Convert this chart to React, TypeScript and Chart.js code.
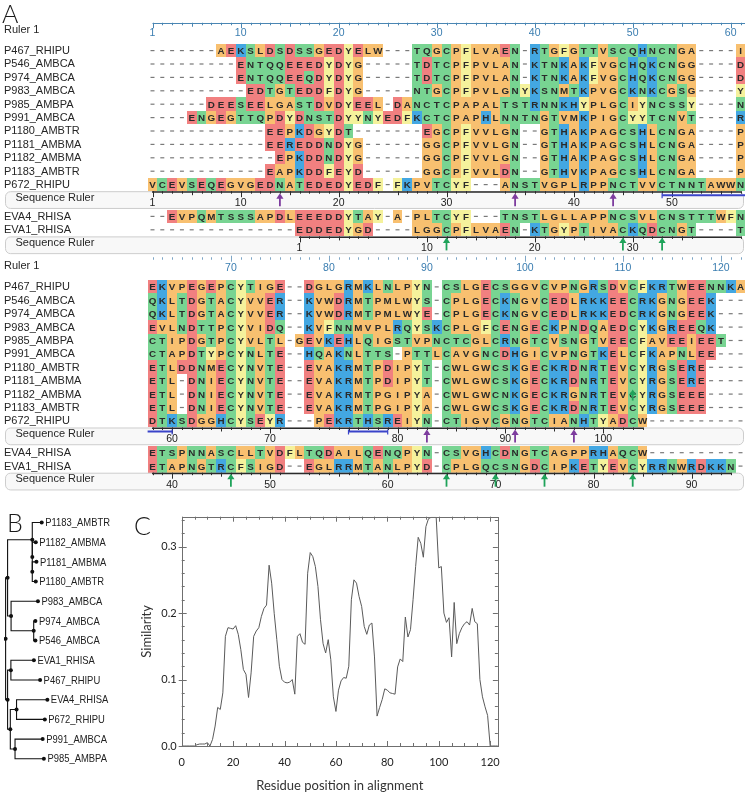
import React, { useEffect, useRef } from 'react';
import { Chart, registerables } from 'chart.js';

Chart.register(...registerables);

/* ============================ DATA ============================ */

// ---- Panel A: multiple alignment, wrapped in two blocks of 61 columns ----
const sequenceNames = [
  'P467_RHIPU', 'P546_AMBCA', 'P974_AMBCA', 'P983_AMBCA', 'P985_AMBPA', 'P991_AMBCA',
  'P1180_AMBTR', 'P1181_AMBMA', 'P1182_AMBMA', 'P1183_AMBTR', 'P672_RHIPU',
];
const sequencesBlock1 = [
  '-------AEKSLDSDSSGEDYELW---TQGCPFLVAEN-RTGFGTTVSCQHNCNGA----I',
  '---------ENTQQEEEDYDYG-----TDTCPFPVLAN-KTNKAKFVGCHQKCNGG----D',
  '---------ENTQQEEQDYDYG-----TDTCPFPVLAN-KTNKAKFVGCHQKCNGG----D',
  '----------EDTGTEDDFDYG-----NTGCPFPVLGNYKSNMTKPVGCKNKCGSG----Y',
  '------DEESEELGASTDVDYEEL-DANCTCPAPALTSTRNNKHYPLGCIYNCSSY----N',
  '----ENGEGTTQPDYDNSTDYYNYEDFKCTCPAPHLNNTNGTVMKPIGCYYTCNVT----R',
  '------------EEPKDGYDT-------EGCPFVVLGN--GTHAKPAGCSHLCNGA----P',
  '------------EEREDDNDYG------GGCPFVVLGN--GTHAKPAGCSHLCNGA----P',
  '-------------EPKDDNDYG------GGCPFVVLGN--GTHAKPAGCSHLCNGA----P',
  '------------EAPKDDFEYD------GGCPFVVLDN--GTHVKPAGCSHLCNGA----P',
  'VCEVSEQEGVGEDNATEDEDYEDF-FKPVTCYF---ANSTVGPLRPPNCTVVCTNNTAWWN',
];
const sequencesBlock2 = [
  'EKVPEGEPCYTIGE--DGLGRMKLNLPYN-CSLGECSGGVCVPNGRSDVCFKRTWEENNKA',
  'QKLTDGTACYVVER--KVWDRMTPMLWYS-CPLGECKNGVCEDLRKKEECRKGNGEEK---',
  'QKLTDGTACYVVER--KVWDRMTPMLWYE-CPLGECKNGVCEDLRKKEDCRKGNGEEK---',
  'EVLNDTTPCYVIDQ--KVFNNMVPLRQYSKCPLGFCENGECKPNDQAEDCYKGREEQK---',
  'CTIPDGTPCYVLTL-GEVKEHLQIGSTVPNCTCGLCRNGTCVSNGTVEECFAVEEIEET--',
  'CTAPDTYPCYNLTE--HQAKNLTTS-PTTLCAVGNCDHGICVPNGTKELCFKAPNLEE---',
  'ETLDDNMECYNVTE--EVAKRMTPDIPYT-CWLGWCSKGECKRDNRTEVCYRGSERE----',
  'ETL-DNIECYNVTE--EVAKRMTPDIPYT-CWLGWCSKGECKRDNRTEVCYRGSERE----',
  'ETL-DNIECYNVTE--EVAKRMTPGIPYA-CWLGWCNKGECKRGNRTEVCYRGSEEE----',
  'ETL-DNIECYNVTE--EVAKRMTPGIPYA-CWLGWCSKGECKRDNRTEVCYRGSEEE----',
  'DTKSDGGHCYSEYR---PEKRTHSREIYN-CTIGVCGNGTCIANHTYADCW----------',
];
const evaNames = ['EVA4_RHISA', 'EVA1_RHISA'];
const evaBlock1 = [
  '--EVPQMTSSSAPDLEEEDDYTAY-A-PLTCYF---TNSTLGLLAPPNCSVLCNSTTTWFN',
  '---------------EDDEDYGD----LGGCPFLVAEN-KTGYPTIVACKQDCNGT----T',
];
const evaBlock2 = [
  'ETSPNNASCLLTVDFLTQDAILQENQPYN-CSVGHCDNGTCAGPPRHAQCW----------',
  'ETAPNGTRCFSIGD--EGLRRMTANLPYD-CPLGQCSNGDCIPKETYEVCYRRNWRDKKN-',
];
const blockFirstColumns = [1, 62];
const ruler1Numbers = [1, 10, 20, 30, 40, 50, 60, 70, 80, 90, 100, 110, 120];
const glycosylationColumns = [14, 38, 48, 90, 99, 105];
const cysteineColumns = [31, 49, 53, 70, 92, 97, 102, 111];
const underlineRanges = [[53, 64], [82, 86]];
const extraArrowColumns = [111];
const extraArrowSequence = 'P1182_AMBMA';

const residueGroups: Record<string, string> = {
  orange: 'AGPLVIMW',
  yellow: 'FY',
  green: 'STNQC',
  blue: 'KRH',
  red: 'DE',
};

// ---- Panel B: tree ----
const treeLeafNames = [
  'P1183_AMBTR', 'P1182_AMBMA', 'P1181_AMBMA', 'P1180_AMBTR', 'P983_AMBCA', 'P974_AMBCA',
  'P546_AMBCA', 'EVA1_RHISA', 'P467_RHIPU', 'EVA4_RHISA', 'P672_RHIPU', 'P991_AMBCA', 'P985_AMBPA',
];
const treeLeafDepths = [40, 33.7, 34.4, 33.7, 36, 33.3, 33.3, 31.7, 38.3, 46, 43.3, 41, 42.3];
// internal nodes (ids 13..24): depth and two children
const treeNodeDepths = [30, 30, 30, 31.5, 7.5, 3.8, 7.3, 13.3, 11.7, 6.7, 3.8, 1.7];
const treeNodeChildren = [
  [2, 3], [1, 13], [0, 14], [5, 6], [4, 16], [15, 17],
  [7, 8], [9, 10], [11, 12], [20, 21], [19, 22], [18, 23],
];

// ---- Panel C: similarity profile ----
const residuePositions = [
  0, 1, 2, 3, 4, 5, 6, 7, 8, 9, 10, 11, 12, 13, 14, 15, 16, 17, 18, 19,
  20, 21, 22, 23, 24, 25, 26, 27, 28, 29, 30, 31, 32, 33, 34, 35, 36, 37, 38, 39,
  40, 41, 42, 43, 44, 45, 46, 47, 48, 49, 50, 51, 52, 53, 54, 55, 56, 57, 58, 59,
  60, 61, 62, 63, 64, 65, 66, 67, 68, 69, 70, 71, 72, 73, 74, 75, 76, 77, 78, 79,
  80, 81, 82, 83, 84, 85, 86, 87, 88, 89, 90, 91, 92, 93, 94, 95, 96, 97, 98, 99,
  100, 101, 102, 103, 104, 105, 106, 107, 108, 109, 110, 111, 112, 113, 114, 115, 116, 117, 118, 119,
  120, 121, 122, 123,
];
const similarityValues = [
  0, 0, 0, 0, 0, 0, 0.002, 0.003, 0.003, 0.003,
  0.005, 0, 0.01, 0.03, 0.058, 0.055, 0.08, 0.165, 0.178, 0.177,
  0.176, 0.181, 0.168, 0.145, 0.115, 0.108, 0.073, 0.11, 0.165, 0.173,
  0.178, 0.195, 0.207, 0.212, 0.272, 0.245, 0.199, 0.16, 0.12, 0.1,
  0.096, 0.095, 0.096, 0.1, 0.078, 0.165, 0.169, 0.156, 0.153, 0.26,
  0.291, 0.285, 0.27, 0.24, 0.19, 0.154, 0.14, 0.16, 0.13, 0.074,
  0.052, 0.084, 0.098, 0.103, 0.102, 0.12, 0.22, 0.25, 0.245, 0.225,
  0.21, 0.18, 0.168, 0.182, 0.185, 0.134, 0.045, 0.058, 0.07, 0.086,
  0.084, 0.08, 0.079, 0.078, 0.119, 0.131, 0.127, 0.194, 0.164, 0.175,
  0.22, 0.27, 0.314, 0.305, 0.284, 0.33, 0.342, 0.344, 0.344, 0.344,
  0.268, 0.27, 0.2, 0.186, 0.193, 0.134, 0.216, 0.154, 0.169, 0.178,
  0.184, 0.187, 0.182, 0.207, 0.187, 0.184, 0.1, 0.074, 0.059, 0.046,
  0, 0, 0, 0,
];
const xTickValues = [0, 20, 40, 60, 80, 100, 120];
const yTickValues = [0, 0.1, 0.2, 0.3];

/* ============================ STYLE / LAYOUT ============================ */

const groupColors: Record<string, string> = {
  orange: '#f8c070',
  yellow: '#f5f29c',
  green: '#78d492',
  blue: '#43a7e2',
  red: '#f18080',
};
const W = 745;
const ALIGN_H = 495;
const COL_PX = 9.8;
const FIRST_COL_PX = 152.5;
const ROW_PX = 13.4;
const FIRST_ROW_PX = 50.5;
const COLS_PER_BLOCK = 61;
const BLOCK_ROW_OFFSETS = [0, 17.634];
const RULER1_LINE_ROWS = [-2.07, -2.13];
const RULER1_NUMBER_ROWS = [-1.28, -1.38];
const RULER1_LABEL_ROW = -1.56;
const SEQ_RULER_A = 10.5;
const EVA_FIRST_ROW = 12.373;
const SEQ_RULER_B = 13.873;
const BOX_ROWS = 1.25;
const FONT = '"Liberation Sans", Arial, sans-serif';

function colorFor(ch: string) {
  for (const g of Object.keys(residueGroups)) if (residueGroups[g].includes(ch)) return groupColors[g];
  return null;
}
function residueNumbers(full: string) {
  const out: number[] = [];
  let n = 0;
  for (const ch of full) {
    if (ch !== '-') { n += 1; out.push(n); } else out.push(0);
  }
  return out;
}

function drawArrow(ctx: any, cx: number, tipY: number, len: number, color: string) {
  ctx.fillStyle = color;
  ctx.strokeStyle = color;
  ctx.beginPath();
  ctx.moveTo(cx, tipY);
  ctx.lineTo(cx - 3.6, tipY + 5.5);
  ctx.lineTo(cx + 3.6, tipY + 5.5);
  ctx.closePath();
  ctx.fill();
  ctx.lineWidth = 1.8;
  ctx.beginPath();
  ctx.moveTo(cx, tipY + 4);
  ctx.lineTo(cx, tipY + len);
  ctx.stroke();
}

const alignmentPlugin = {
  id: 'alignmentPlugin',
  afterDraw(chart: any) {
    const { ctx, chartArea: ca } = chart;
    const xs = chart.scales.x;
    const ys = chart.scales.y;
    const X = (v: number) => xs.getPixelForValue(v);
    const Y = (v: number) => ys.getPixelForValue(v);
    ctx.save();

    ctx.fillStyle = '#1a1a1a';
    ctx.font = '300 25px Lato, sans-serif';
    ctx.textAlign = 'left';
    ctx.textBaseline = 'alphabetic';
    ctx.fillText('A', ca.left + 2, Y(-2.05));

    const label = (text: string, x: number, y: number) => {
      ctx.fillStyle = '#262626';
      ctx.font = `11px ${FONT}`;
      ctx.textAlign = 'left';
      ctx.textBaseline = 'middle';
      ctx.fillText(text, x, y);
    };

    const drawRow = (name: string, seq: string, row: number) => {
      label(name, ca.left + 4, Y(row) + 0.5);
      const y0 = Math.round(Y(row - 0.5));
      const y1 = Math.round(Y(row + 0.5));
      const cy = Y(row);
      for (let j = 0; j < seq.length; j++) {
        const ch = seq[j];
        const cx = X(j);
        if (ch === '-') {
          ctx.fillStyle = '#7a7a7a';
          ctx.fillRect(cx - 2, cy - 0.5, 4, 1.2);
          continue;
        }
        const x0 = Math.round(X(j - 0.5));
        const x1 = Math.round(X(j + 0.5));
        const c = colorFor(ch);
        if (c) {
          ctx.fillStyle = c;
          ctx.fillRect(x0, y0, x1 - x0, y1 - y0);
        }
        ctx.fillStyle = '#2a2a2a';
        ctx.font = `bold 9.8px ${FONT}`;
        ctx.textAlign = 'center';
        ctx.textBaseline = 'alphabetic';
        ctx.fillText(ch, cx, cy + 3.6);
      }
    };

    const drawSeqRuler = (full: string, lineRow: number, first: number, last: number) => {
      const nums = residueNumbers(full);
      const ly = Y(lineRow);
      const by = Y(lineRow + BOX_ROWS);
      ctx.fillStyle = '#f8f8f8';
      ctx.strokeStyle = '#cdcdcd';
      ctx.lineWidth = 1;
      ctx.beginPath();
      ctx.roundRect(ca.left + 5.5, ly + 0.5, ca.right - ca.left - 7, by - ly, 5);
      ctx.fill();
      ctx.stroke();
      label('Sequence Ruler', ca.left + 15.5, Y(lineRow + 0.5));
      const cols: number[] = [];
      for (let c = first; c <= last; c++) if (nums[c - 1] > 0) cols.push(c);
      if (!cols.length) return;
      ctx.strokeStyle = '#2b2b2b';
      ctx.lineWidth = 1.6;
      ctx.beginPath();
      ctx.moveTo(X(cols[0] - first) - 0.5, ly + 0.8);
      ctx.lineTo(X(cols[cols.length - 1] - first) + 0.5, ly + 0.8);
      ctx.stroke();
      ctx.lineWidth = 1;
      for (const c of cols) {
        const n = nums[c - 1];
        const len = n === 1 || n % 10 === 0 ? 6 : n % 5 === 0 ? 4 : 2.5;
        const px = Math.round(X(c - first)) + 0.5;
        ctx.beginPath();
        ctx.moveTo(px, ly);
        ctx.lineTo(px, ly + len);
        ctx.stroke();
        if (n === 1 || n % 10 === 0) {
          ctx.fillStyle = '#222';
          ctx.font = `10.5px ${FONT}`;
          ctx.textAlign = 'center';
          ctx.textBaseline = 'middle';
          ctx.fillText(String(n), X(c - first), Y(lineRow + 0.9));
        }
      }
    };

    blockFirstColumns.forEach((first, b) => {
      const off = BLOCK_ROW_OFFSETS[b];
      const last = first + COLS_PER_BLOCK - 1;
      const sx = (col: number) => X(col - first);

      // Ruler 1
      label('Ruler 1', ca.left + 4, Y(off + RULER1_LABEL_ROW));
      const ry = Y(off + RULER1_LINE_ROWS[b]);
      ctx.strokeStyle = b === 0 ? '#4a86b3' : '#7ea6c6';
      ctx.lineWidth = 1;
      if (b === 0) {
        ctx.beginPath();
        ctx.moveTo(sx(first), Math.round(ry) + 0.5);
        ctx.lineTo(ca.right, Math.round(ry) + 0.5);
        ctx.stroke();
      }
      for (let c = first; c <= last; c++) {
        const major = c === 1 || c % 10 === 0;
        const len = major ? 5.5 : c % 5 === 0 ? 4 : 2.5;
        const px = Math.round(sx(c)) + 0.5;
        ctx.beginPath();
        if (b === 0) {
          ctx.moveTo(px, ry);
          ctx.lineTo(px, ry + len);
        } else {
          ctx.moveTo(px, ry - (major ? 2.5 : 1));
          ctx.lineTo(px, ry + (major ? 3.5 : 1.5));
        }
        ctx.stroke();
      }
      ctx.fillStyle = '#3a7db0';
      ctx.font = `10.5px ${FONT}`;
      ctx.textAlign = 'center';
      ctx.textBaseline = 'middle';
      ruler1Numbers.filter((n) => n >= first && n <= last).forEach((n) => {
        ctx.fillText(String(n), sx(n), Y(off + RULER1_NUMBER_ROWS[b]));
      });

      // sequences
      const blockSeqs = b === 0 ? sequencesBlock1 : sequencesBlock2;
      sequenceNames.forEach((name, i) => drawRow(name, blockSeqs[i], off + i));
      const evaSeqs = b === 0 ? evaBlock1 : evaBlock2;
      evaNames.forEach((name, j) => drawRow(name, evaSeqs[j], off + EVA_FIRST_ROW + j));

      // sequence rulers
      const p672 = sequencesBlock1[10] + sequencesBlock2[10];
      const eva1 = evaBlock1[1] + evaBlock2[1];
      drawSeqRuler(p672, off + SEQ_RULER_A, first, last);
      drawSeqRuler(eva1, off + SEQ_RULER_B, first, last);

      // underline annotations
      const uy = Y(off + SEQ_RULER_A) + 4;
      ctx.strokeStyle = '#3a44c9';
      ctx.lineWidth = 2;
      underlineRanges.forEach(([a, e]) => {
        const l = Math.max(a, first - 0.5);
        const r = Math.min(e, last + 0.5);
        if (l >= r) return;
        ctx.beginPath();
        ctx.moveTo(sx(l), uy);
        ctx.lineTo(sx(r), uy);
        ctx.stroke();
        ctx.lineWidth = 1.2;
        [a, e].forEach((end) => {
          if (end >= first && end <= last) {
            ctx.beginPath();
            ctx.moveTo(sx(end), uy - 2);
            ctx.lineTo(sx(end), uy + 3);
            ctx.stroke();
          }
        });
        ctx.lineWidth = 2;
      });

      // arrows
      glycosylationColumns.filter((c) => c >= first && c <= last).forEach((c) => {
        drawArrow(ctx, sx(c), Y(off + SEQ_RULER_A) + 2, 13, '#7d3c9e');
      });
      cysteineColumns.filter((c) => c >= first && c <= last).forEach((c) => {
        drawArrow(ctx, sx(c), Y(off + SEQ_RULER_B) + 1, 13, '#1fa35a');
      });
      const er = sequenceNames.indexOf(extraArrowSequence);
      extraArrowColumns.filter((c) => c >= first && c <= last).forEach((c) => {
        drawArrow(ctx, sx(c), Y(off + er) - 4.5, 11, '#1fa35a');
      });
    });
    ctx.restore();
  },
};

/* ---- tree geometry from data ---- */
function treeGeometry() {
  const xs: number[] = [...treeLeafDepths];
  const ys: number[] = treeLeafNames.map((_, i) => i);
  treeNodeChildren.forEach(([a, b], k) => {
    xs[13 + k] = treeNodeDepths[k];
    ys[13 + k] = (ys[a] + ys[b]) / 2;
  });
  return { xs, ys };
}

const treePlugin = {
  id: 'treePlugin',
  afterDraw(chart: any) {
    const { ctx, chartArea: ca } = chart;
    const X = (v: number) => chart.scales.x.getPixelForValue(v);
    const Y = (v: number) => chart.scales.y.getPixelForValue(v);
    ctx.save();
    ctx.fillStyle = '#1a1a1a';
    ctx.font = '300 25px Lato, sans-serif';
    ctx.textAlign = 'left';
    ctx.textBaseline = 'alphabetic';
    ctx.fillText('B', ca.left + 3, ca.top + 28);
    ctx.fillStyle = '#222';
    ctx.font = `11.5px ${FONT}`;
    ctx.textBaseline = 'middle';
    treeLeafNames.forEach((name, i) => {
      ctx.save();
      ctx.translate(X(treeLeafDepths[i]) + 3.5, Y(i) + 0.5);
      ctx.scale(0.82, 1);
      ctx.fillText(name, 0, 0);
      ctx.restore();
    });
    ctx.restore();
  },
};

const similarityPlugin = {
  id: 'similarityPlugin',
  afterDraw(chart: any) {
    const { ctx, chartArea: ca } = chart;
    const xs = chart.scales.x;
    const ys = chart.scales.y;
    ctx.save();
    ctx.strokeStyle = '#6f6f6f';
    ctx.lineWidth = 1;
    ctx.strokeRect(Math.round(ca.left) + 0.5, Math.round(ca.top) + 0.5, Math.round(ca.right - ca.left), Math.round(ca.bottom - ca.top));
    for (let v = 0; v <= xs.max; v += 5) {
      const px = Math.round(xs.getPixelForValue(v)) + 0.5;
      const len = v % 20 === 0 ? 5 : 3;
      ctx.beginPath();
      ctx.moveTo(px, ca.bottom);
      ctx.lineTo(px, ca.bottom - len);
      ctx.moveTo(px, ca.top);
      ctx.lineTo(px, ca.top + len);
      ctx.stroke();
    }
    for (let k = 0; k * 0.02 <= ys.max; k++) {
      const py = Math.round(ys.getPixelForValue(k * 0.02)) + 0.5;
      const major = k % 5 === 0;
      const len = major ? 5 : 3;
      ctx.beginPath();
      ctx.moveTo(ca.left - (major ? 3 : 0), py);
      ctx.lineTo(ca.left + len, py);
      ctx.moveTo(ca.right, py);
      ctx.lineTo(ca.right - len, py);
      ctx.stroke();
    }
    ctx.fillStyle = '#1a1a1a';
    ctx.font = '300 25px Lato, sans-serif';
    ctx.textAlign = 'left';
    ctx.textBaseline = 'alphabetic';
    ctx.fillText('C', 14, 35);
    ctx.fillStyle = '#333';
    ctx.font = '13px Lato, sans-serif';
    ctx.textAlign = 'center';
    ctx.textBaseline = 'middle';
    ctx.fillText('Residue position in alignment', (ca.left + ca.right) / 2, 286);
    ctx.save();
    ctx.translate(27, (ca.top + ca.bottom) / 2);
    ctx.rotate(-Math.PI / 2);
    ctx.fillText('Similarity', 0, 0);
    ctx.restore();
    ctx.restore();
  },
};

/* ============================ COMPONENTS ============================ */

function AlignmentPanel() {
  const ref = useRef<HTMLCanvasElement>(null);
  useEffect(() => {
    const xMin = -FIRST_COL_PX / COL_PX;
    const yMin = -FIRST_ROW_PX / ROW_PX;
    const chart = new Chart(ref.current as HTMLCanvasElement, {
      type: 'scatter',
      data: { datasets: [{ data: [], pointRadius: 0 }] },
      options: {
        responsive: false,
        animation: false,
        devicePixelRatio: 1,
        events: [],
        layout: { padding: 0 },
        plugins: { legend: { display: false }, tooltip: { enabled: false } },
        scales: {
          x: { type: 'linear', display: false, min: xMin, max: xMin + W / COL_PX },
          y: { type: 'linear', display: false, reverse: true, min: yMin, max: yMin + ALIGN_H / ROW_PX },
        },
      },
      plugins: [alignmentPlugin],
    } as any);
    return () => chart.destroy();
  }, []);
  return <canvas ref={ref} width={W} height={ALIGN_H} style={{ position: 'absolute', left: 0, top: 0 }} />;
}

function TreePanel() {
  const ref = useRef<HTMLCanvasElement>(null);
  useEffect(() => {
    const { xs, ys } = treeGeometry();
    const branchSets = treeNodeChildren.map(([a, b], k) => {
      const n = 13 + k;
      return {
        data: [
          { x: xs[a], y: ys[a] }, { x: xs[n], y: ys[a] },
          { x: xs[n], y: ys[b] }, { x: xs[b], y: ys[b] },
        ],
        showLine: true,
        borderColor: '#111',
        borderWidth: 1.1,
        pointRadius: 0,
      };
    });
    const dots = {
      data: xs.map((x, i) => ({ x, y: ys[i] })),
      showLine: false,
      pointRadius: 2,
      backgroundColor: '#111',
      borderWidth: 0,
    };
    const pitch = 20.25;
    const yMin = -19 / pitch;
    const chart = new Chart(ref.current as HTMLCanvasElement, {
      type: 'scatter',
      data: { datasets: [...branchSets, dots] },
      options: {
        responsive: false,
        animation: false,
        devicePixelRatio: 1,
        events: [],
        layout: { padding: 0 },
        plugins: { legend: { display: false }, tooltip: { enabled: false } },
        scales: {
          x: { type: 'linear', display: false, min: 0, max: 140 },
          y: { type: 'linear', display: false, reverse: true, min: yMin, max: yMin + 290 / pitch },
        },
      },
      plugins: [treePlugin],
    } as any);
    return () => chart.destroy();
  }, []);
  return <canvas ref={ref} width={140} height={290} style={{ position: 'absolute', left: 0, top: 500 }} />;
}

function SimilarityPanel() {
  const ref = useRef<HTMLCanvasElement>(null);
  useEffect(() => {
    const chart = new Chart(ref.current as HTMLCanvasElement, {
      type: 'line',
      data: {
        datasets: [{
          data: residuePositions.map((p, i) => ({ x: p, y: similarityValues[i] })),
          borderColor: '#5a5a5a',
          borderWidth: 1,
          pointRadius: 0,
          tension: 0,
          fill: false,
        }],
      },
      options: {
        responsive: false,
        animation: false,
        devicePixelRatio: 1,
        events: [],
        layout: { padding: { left: 0, right: 10.5, top: 16.7, bottom: 0 } },
        plugins: { legend: { display: false }, tooltip: { enabled: false } },
        scales: {
          x: {
            type: 'linear', min: 0, max: 123,
            afterFit: (s: any) => { s.height = 48; },
            afterBuildTicks: (s: any) => { s.ticks = xTickValues.map((value) => ({ value })); },
            grid: { display: false, drawTicks: false },
            border: { display: false },
            ticks: { padding: 10, color: '#222', maxRotation: 0, autoSkip: false, font: { family: 'Lato', size: 11 } },
          },
          y: {
            type: 'linear', min: 0, max: 0.345,
            afterFit: (s: any) => { s.width = 61.7; },
            afterBuildTicks: (s: any) => { s.ticks = yTickValues.map((value) => ({ value })); },
            grid: { display: false, drawTicks: false },
            border: { display: false },
            ticks: { padding: 5, color: '#222', font: { family: 'Lato', size: 11 }, callback: (v: any) => Number(v).toFixed(1) },
          },
        },
      },
      plugins: [similarityPlugin],
    } as any);
    return () => chart.destroy();
  }, []);
  return <canvas ref={ref} width={390} height={294} style={{ position: 'absolute', left: 120, top: 500 }} />;
}

export default function App() {
  return (
    <div style={{ position: 'absolute', left: 0, top: 0, width: W, height: 794, background: '#fff', overflow: 'hidden' }}>
      <AlignmentPanel />
      <TreePanel />
      <SimilarityPanel />
    </div>
  );
}
